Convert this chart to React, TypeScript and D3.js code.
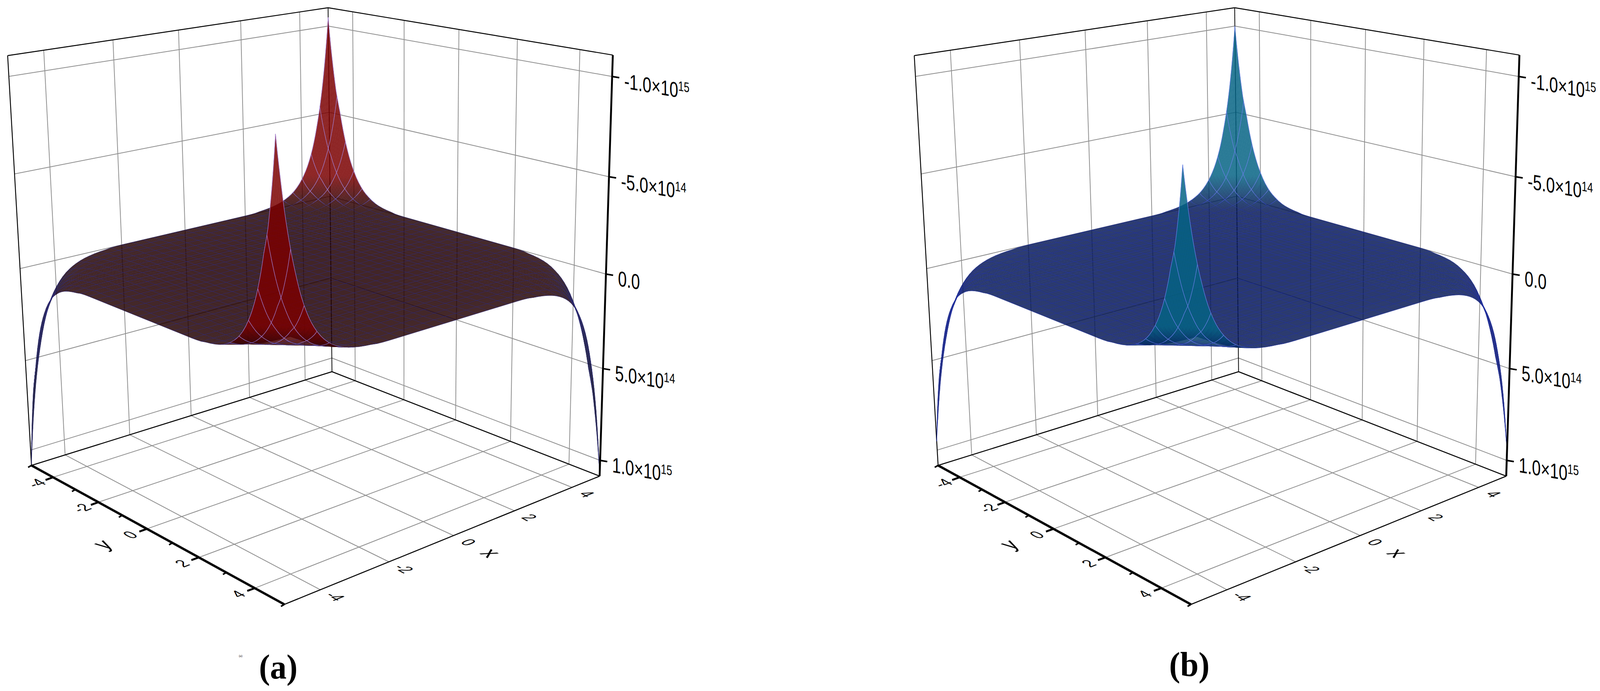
import React from "react";
import * as d3 from "d3";

// ---------- values ----------
const xTicks = [-4, -2, 0, 2, 4];
const yTicks = [-4, -2, 0, 2, 4];
const yMinorTicks = [-3, -1, 1, 3];
const zTicks = [-1e15, -5e14, 0, 5e14, 1e15];
const zMantissas = ["-1.0", "-5.0", "0.0", "5.0", "1.0"];
const zExponents = ["15", "14", "", "14", "15"];
const xDomain: [number, number] = [-5, 5];
const zDomain: [number, number] = [-1.105e15, 1.087e15];

// distance from a corner along x or y at which the surface was read
const cornerDistances = [0, 0.1, 0.2, 0.3, 0.45, 0.6, 0.8, 1, 1.3, 1.6, 2, 2.5, 3];
// surface height near a corner, in thousandths of the corner's peak (rows: distance in y, cols: distance in x)
const cornerTable = [
  [1000, 820, 670, 550, 410, 300, 200, 135, 74, 41, 18, 6, 0],
  [840, 689, 563, 462, 344, 252, 168, 113, 62, 34, 15, 5, 0],
  [710, 582, 476, 391, 291, 213, 142, 96, 53, 29, 13, 4, 0],
  [600, 492, 402, 330, 246, 180, 120, 81, 44, 25, 11, 4, 0],
  [490, 402, 328, 270, 201, 147, 98, 66, 36, 20, 9, 3, 0],
  [375, 308, 251, 206, 154, 113, 75, 51, 28, 15, 7, 2, 0],
  [260, 213, 174, 143, 107, 78, 52, 35, 19, 11, 5, 2, 0],
  [180, 148, 121, 99, 74, 54, 36, 24, 13, 7, 3, 1, 0],
  [100, 82, 67, 55, 41, 30, 20, 14, 7, 4, 2, 1, 0],
  [55, 45, 37, 30, 23, 17, 11, 7, 4, 2, 1, 0, 0],
  [22, 18, 15, 12, 9, 7, 4, 3, 2, 1, 0, 0, 0],
  [7, 6, 5, 4, 3, 2, 1, 1, 1, 0, 0, 0, 0],
  [0, 0, 0, 0, 0, 0, 0, 0, 0, 0, 0, 0, 0],
];
// corner peaks [left (-,-), back (+,-), right (+,+), front (-,+)]
const peaksA = [1.08e15, -1.05e15, 1.08e15, -1.05e15];
const peaksB = [0.95e15, -1.0e15, 0.95e15, -0.92e15];

// colour stops along z
const zColorStops = [-1.2e15, -1.6e14, -8e12, 2e13, 2e14, 1.2e15];
const colorsA = ["#7b0000", "#7b0000", "#220002", "#220002", "#0a0a30", "#06061d"];
const colorsB = ["#056384", "#056384", "#051755", "#051755", "#05106a", "#05106a"];
const meshA = ["#2b2a8a", "#a285de"];
const meshB = ["#2030b0", "#6c80ea"];

// calibration of the view: [x, y, z] of the box against where it shows in the picture
const viewAnchors: [number, number, number, number, number][] = [
  [-5, -5, zDomain[1], 83, 1191],
  [-5, -5, zDomain[0], 20, 142],
  [5, -5, zDomain[1], 883, 951],
  [5, -5, zDomain[0], 872, 20],
  [5, 5, zDomain[1], 1594, 1219],
  [5, 5, zDomain[0], 1630, 142],
  [-5, 5, zDomain[1], 756, 1546],
  [5, 5, -1e15, 1628, 196],
  [5, 5, -5e14, 1620, 452],
  [5, 5, 0, 1612, 700],
  [5, 5, 5e14, 1603, 941],
  [5, 5, 1e15, 1597, 1178],
  [-5, -4, zDomain[1], 142, 1221],
  [-5, 0, zDomain[1], 392, 1353],
  [-5, 4, zDomain[1], 677, 1505],
  [-4, 5, zDomain[1], 851, 1509],
  [0, 5, zDomain[1], 1207, 1371],
  [4, 5, zDomain[1], 1520, 1248],
];

// ---------- projection ----------
const unit = d3.scaleLinear().domain(xDomain).range([-1, 1]);
const zUnit = d3.scaleLinear().domain(zDomain).range([1, -1]);

function solve(A: number[][], b: number[]) {
  const n = b.length;
  const M = A.map((r, i) => [...r, b[i]]);
  for (let c = 0; c < n; c++) {
    let p = c;
    for (let r = c + 1; r < n; r++) if (Math.abs(M[r][c]) > Math.abs(M[p][c])) p = r;
    [M[c], M[p]] = [M[p], M[c]];
    for (let r = 0; r < n; r++) {
      if (r === c) continue;
      const f = M[r][c] / M[c][c];
      for (let k = c; k <= n; k++) M[r][k] -= f * M[c][k];
    }
  }
  return M.map((r, i) => r[n] / r[i]);
}

function fitView() {
  const rows: number[][] = [];
  const rhs: number[] = [];
  viewAnchors.forEach(([x, y, z, px, py]) => {
    const X = unit(x), Y = unit(y), Z = zUnit(z);
    const u = px / 1000, v = py / 1000;
    rows.push([X, Y, Z, 1, 0, 0, 0, 0, -u * X, -u * Y, -u * Z]);
    rhs.push(u);
    rows.push([0, 0, 0, 0, X, Y, Z, 1, -v * X, -v * Y, -v * Z]);
    rhs.push(v);
  });
  const N = 11;
  const AtA = d3.range(N).map((i) => d3.range(N).map((j) => d3.sum(rows, (r) => r[i] * r[j])));
  const Atb = d3.range(N).map((i) => d3.sum(rows, (r, k) => r[i] * rhs[k]));
  return solve(AtA, Atb);
}
const P = fitView();
function proj(x: number, y: number, z: number): [number, number] {
  const X = unit(x), Y = unit(y), Z = zUnit(z);
  const w = P[8] * X + P[9] * Y + P[10] * Z + 1;
  return [
    (1000 * (P[0] * X + P[1] * Y + P[2] * Z + P[3])) / w,
    (1000 * (P[4] * X + P[5] * Y + P[6] * Z + P[7])) / w,
  ];
}
const line3 = (a: number[], b: number[]) => {
  const p = proj(a[0], a[1], a[2]);
  const q = proj(b[0], b[1], b[2]);
  return { x1: p[0], y1: p[1], x2: q[0], y2: q[1] };
};

// ---------- surface ----------
// reading the table between its rows follows the surface's steep fall-off on a log scale
const toLog = (v: number) => Math.log(v / 0.3 + 1);
const fromLog = (g: number) => 0.3 * (Math.exp(g) - 1);
const logTable = cornerTable.map((r) => r.map(toLog));

function lookup(dy: number, dx: number) {
  const D = cornerDistances;
  const last = D[D.length - 1];
  if (dx >= last || dy >= last) return 0;
  const j = Math.min(d3.bisectRight(D, dx) - 1, D.length - 2);
  const i = Math.min(d3.bisectRight(D, dy) - 1, D.length - 2);
  const tx = (dx - D[j]) / (D[j + 1] - D[j]);
  const ty = (dy - D[i]) / (D[i + 1] - D[i]);
  const T = logTable;
  return (
    fromLog((1 - ty) * ((1 - tx) * T[i][j] + tx * T[i][j + 1]) + ty * ((1 - tx) * T[i + 1][j] + tx * T[i + 1][j + 1])) /
    1000
  );
}
function surfaceZ(peaks: number[], x: number, y: number) {
  const a = x + 5, b = 5 - x, c = y + 5, d = 5 - y;
  return (
    peaks[0] * lookup(c, a) + peaks[1] * lookup(c, b) + peaks[2] * lookup(d, b) + peaks[3] * lookup(d, a)
  );
}
// drawing knots: each table interval is cut in three so that shades and outlines run smoothly
const fineDistances = cornerDistances.slice(0, -1).flatMap((d, i) => {
  const e = cornerDistances[i + 1];
  return [d, d + (e - d) / 3, d + (2 * (e - d)) / 3];
});
const knots = [
  ...fineDistances.map((d) => -5 + d),
  -2,
  2,
  ...[...fineDistances].reverse().map((d) => 5 - d),
];
const meshSteps = d3.range(0, 31).map((k) => -5 + k / 3);
const isFront = (x: number, y: number) => x < -3.4 && y > 3.4;

function Surface({ peaks, colors, mesh }: { peaks: number[]; colors: string[]; mesh: string[] }) {
  const color = d3.scaleLinear<string>().domain(zColorStops).range(colors);
  const meshColor = d3
    .scaleLinear<string>()
    .domain([-8e13, -1e13])
    .range([mesh[1], mesh[0]])
    .clamp(true);
  const quads: { key: number; front: boolean; d: string; fill: string }[] = [];
  for (let i = 0; i < knots.length - 1; i++) {
    for (let j = 0; j < knots.length - 1; j++) {
      const x0 = knots[i], x1 = knots[i + 1], y0 = knots[j], y1 = knots[j + 1];
      const cs = [
        [x0, y0],
        [x1, y0],
        [x1, y1],
        [x0, y1],
      ].map(([x, y]) => [x, y, surfaceZ(peaks, x, y)]);
      const pts = cs.map((c) => proj(c[0], c[1], c[2]));
      quads.push({
        key: (y0 + y1) / 2 - (x0 + x1) / 2,
        front: isFront((x0 + x1) / 2, (y0 + y1) / 2),
        d: "M" + pts.map((p) => p[0].toFixed(1) + "," + p[1].toFixed(1)).join("L") + "Z",
        fill: color(d3.mean(cs, (c) => c[2]) as number),
      });
    }
  }
  quads.sort((a, b) => a.key - b.key);
  const segments: { front: boolean; l: any; c: string; w: number; o: number }[] = [];
  const addLine = (f: (t: number) => [number, number]) => {
    for (let k = 0; k < knots.length - 1; k++) {
      const [xa, ya] = f(knots[k]);
      const [xb, yb] = f(knots[k + 1]);
      const za = surfaceZ(peaks, xa, ya);
      const zb = surfaceZ(peaks, xb, yb);
      const m = (za + zb) / 2;
      segments.push({
        front: isFront((xa + xb) / 2, (ya + yb) / 2),
        l: line3([xa, ya, za], [xb, yb, zb]),
        c: meshColor(m),
        w: m < -3e13 ? 1.3 : 1,
        o: m < -3e13 ? 0.95 : 0.7,
      });
    }
  };
  meshSteps.forEach((c) => {
    addLine((t) => [c, t]);
    addLine((t) => [t, c]);
  });
  const layer = (front: boolean) => (
    <>
      <g opacity={0.85}>
        {quads
          .filter((q) => q.front === front)
          .map((q, i) => (
            <path key={i} d={q.d} fill={q.fill} stroke={q.fill} strokeWidth={0.7} />
          ))}
      </g>
      <g>
        {segments
          .filter((s) => s.front === front)
          .map((s, i) => (
            <line key={i} {...s.l} stroke={s.c} strokeWidth={s.w} strokeOpacity={s.o} />
          ))}
      </g>
    </>
  );
  return (
    <g>
      {layer(false)}
      {layer(true)}
    </g>
  );
}

// ---------- axes ----------
const [zBottom, zTop] = [zDomain[1], zDomain[0]];
const GRID = "#8e8e8e";

function FloorLabel({ pos, text, axis, size = [1, 1] }: { pos: [number, number]; text: string; axis: "x" | "y"; size?: number[] }) {
  const [px, py] = pos;
  const m =
    axis === "y"
      ? [0.93 * 38 * size[0], -0.36 * 38 * size[0], 0.885 * 44 * size[1], 0.466 * 44 * size[1]]
      : [0.885 * 38 * size[0], 0.466 * 38 * size[0], -0.93 * 44 * size[1], 0.36 * 44 * size[1]];
  return (
    <text
      transform={`matrix(${m[0]} ${m[1]} ${m[2]} ${m[3]} ${px} ${py})`}
      fontFamily="Liberation Sans"
      fontSize={1}
      textAnchor="middle"
      dy="0.36"
      fill="#000"
    >
      {text}
    </text>
  );
}

function Frame() {
  const wallV = [
    ...xTicks.map((x) => [[x, -5, zBottom], [x, -5, zTop]]),
    ...yTicks.map((y) => [[5, y, zBottom], [5, y, zTop]]),
  ];
  const wallH = zTicks.flatMap((z) => [
    [[-5, -5, z], [5, -5, z]],
    [[5, -5, z], [5, 5, z]],
  ]);
  const floor = [
    ...xTicks.map((x) => [[x, -5, zBottom], [x, 5, zBottom]]),
    ...yTicks.map((y) => [[-5, y, zBottom], [5, y, zBottom]]),
  ];
  const black: [number[], number[], number][] = [
    [[-5, -5, zTop], [5, -5, zTop], 2.4],
    [[5, -5, zTop], [5, 5, zTop], 2.4],
    [[-5, -5, zBottom], [-5, -5, zTop], 2.4],
    [[5, -5, zBottom], [5, -5, zTop], 2],
    [[-5, -5, zBottom], [5, -5, zBottom], 2.6],
    [[5, -5, zBottom], [5, 5, zBottom], 2.6],
    [[-5, 5, zBottom], [5, 5, zBottom], 2.6],
  ];
  return (
    <g>
      {[...wallV, ...wallH, ...floor].map((l, i) => (
        <line key={i} {...line3(l[0], l[1])} stroke={GRID} strokeWidth={2} />
      ))}
      {black.map((l, i) => (
        <line key={i} {...line3(l[0], l[1])} stroke="#000" strokeWidth={l[2]} />
      ))}
    </g>
  );
}

function Axes() {
  const zAxis = line3([5, 5, zBottom], [5, 5, zTop]);
  const yAxis = line3([-5, -5, zBottom], [-5, 5, zBottom]);
  return (
    <g>
      <line {...zAxis} stroke="#000" strokeWidth={5} />
      <line {...yAxis} stroke="#000" strokeWidth={6} />
      {zTicks.map((z, i) => {
        const [px, py] = proj(5, 5, z);
        return (
          <g key={z}>
            <line x1={px} y1={py} x2={px + 19} y2={py + 3} stroke="#000" strokeWidth={4} />
            <text
              transform={`translate(${px + 32} ${py + 30}) skewY(9.5) scale(1 1.3)`}
              fontFamily="Liberation Sans"
              fontSize={42}
              fill="#000"
            >
              {zMantissas[i]}
              {zExponents[i] && (
                <>
                  <tspan>×</tspan>
                  <tspan>10</tspan>
                  <tspan fontSize={27} dy={-14}>
                    {zExponents[i]}
                  </tspan>
                </>
              )}
            </text>
          </g>
        );
      })}
      {yTicks.map((y) => {
        const [px, py] = proj(-5, y, zBottom);
        return (
          <g key={y}>
            <line x1={px} y1={py} x2={px - 20} y2={py + 7} stroke="#000" strokeWidth={5} />
            <FloorLabel pos={[px - 45, py + 15]} text={String(y)} axis="y" />
          </g>
        );
      })}
      {[...yMinorTicks, -5, 5].map((y) => {
        const [px, py] = proj(-5, y, zBottom);
        return <line key={y} x1={px} y1={py} x2={px - 9} y2={py + 5} stroke="#000" strokeWidth={4} />;
      })}
      {xTicks.map((x) => {
        const [px, py] = proj(x, 5, zBottom);
        return <FloorLabel key={x} pos={[px + 40, py + 17]} text={String(x)} axis="x" />;
      })}
      {(() => {
        const [ax, ay] = proj(0, 5, zBottom);
        const [bx, by] = proj(-5, 0, zBottom);
        return (
          <>
            <FloorLabel pos={[ax + 100, ay + 44]} text="x" axis="x" size={[1.4, 1.4]} />
            <FloorLabel pos={[bx - 119, by + 39]} text="y" axis="y" size={[1.4, 1.4]} />
          </>
        );
      })()}
    </g>
  );
}

function Panel({ dx, peaks, colors, mesh }: { dx: number; peaks: number[]; colors: string[]; mesh: string[] }) {
  return (
    <g transform={`translate(${dx} 0)`}>
      <Frame />
      <Surface peaks={peaks} colors={colors} mesh={mesh} />
      <Axes />
    </g>
  );
}

export default function App() {
  // the browser may clamp the window below the reference's width: fill whatever it gives
  const w = window.innerWidth;
  const h = window.innerHeight;
  return (
    <svg
      width={w}
      height={h}
      viewBox="0 0 4255 1768"
      preserveAspectRatio="none"
      style={{ position: "absolute", left: 0, top: 0, background: "#fff" }}
    >
      <Panel dx={0} peaks={peaksA} colors={colorsA} mesh={meshA} />
      <Panel dx={2411} peaks={peaksB} colors={colorsB} mesh={meshB} />
      <text x={740} y={1736} textAnchor="middle" fontFamily="Liberation Serif" fontWeight="bold" fontSize={88}>
        (a)
      </text>
      <text x={3163} y={1730} textAnchor="middle" fontFamily="Liberation Serif" fontWeight="bold" fontSize={88}>
        (b)
      </text>
      <text x={640} y={1681} textAnchor="middle" fontFamily="Liberation Serif" fontSize={8}>
        (a)
      </text>
    </svg>
  );
}
